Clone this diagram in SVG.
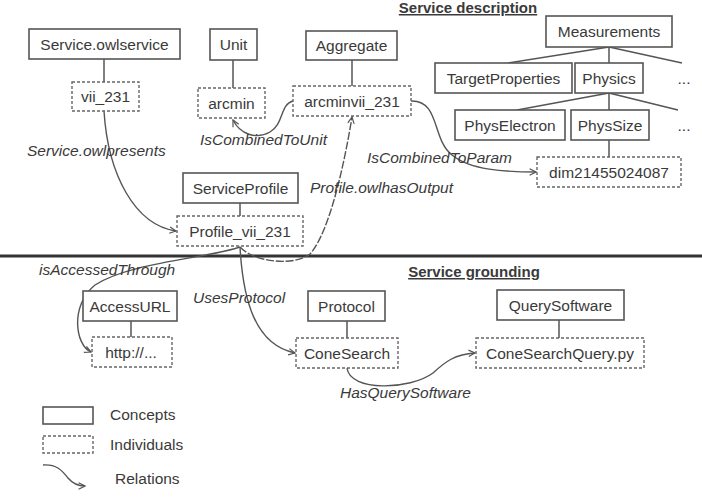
<svg xmlns="http://www.w3.org/2000/svg" width="702" height="498" viewBox="0 0 702 498">
<defs>
<marker id="arr" viewBox="0 0 10 10" refX="9" refY="5" markerWidth="8" markerHeight="8" orient="auto" markerUnits="userSpaceOnUse">
<path d="M1,1 L9,5 L1,9" fill="none" stroke="#555" stroke-width="1.5"/>
</marker>
<style>
.c{fill:#fff;stroke:#555;stroke-width:1.6}
.i{fill:#fff;stroke:#666;stroke-width:1.4;stroke-dasharray:3,2}
.t{font-family:"Liberation Sans",Arial,sans-serif;font-size:15.5px;fill:#3a3a3a;text-anchor:middle}
.l{font-family:"Liberation Sans",Arial,sans-serif;font-size:15.5px;font-style:italic;fill:#3a3a3a}
.h{font-family:"Liberation Sans",Arial,sans-serif;font-size:15px;font-weight:bold;fill:#3a3a3a;text-anchor:middle;text-decoration:underline}
.e{fill:none;stroke:#555;stroke-width:1.5}
.r{fill:none;stroke:#555;stroke-width:1.4;marker-end:url(#arr)}
</style>
</defs>
<rect width="702" height="498" fill="#fff"/>
<text class="h" x="468" y="13">Service description</text>
<text class="h" x="474" y="277">Service grounding</text>
<line x1="0" y1="256" x2="702" y2="256" stroke="#333" stroke-width="3"/>
<g id="edges">
<path class="e" d="M104,59 V82 M233,60 V88 M352,60 V86 M609,47 L508,63 M609,47 V63 M609,47 L682,63 M609,93 L517,110 M609,93 V110 M609,93 L678,110 M609,140 V157 M240,203 V216 M131,321 V337 M347,321 V338 M559,320 V338"/>
<path class="r" d="M104,111 C108,175 135,225 176,231"/>
<path class="r" d="M293,101 C280,104 284,124 270,132 C256,140 240,134 233,120"/>
<path class="r" d="M411,101 C440,100 432,140 452,155 C470,170 505,172 536,172"/>
<path class="r" stroke-dasharray="8,1.8" d="M240,247 C255,263 295,266 310,254 C330,232 345,160 352,117"/>
<path class="r" d="M240,247 C210,258 130,262 95,285 C70,305 75,345 91,352"/>
<path class="r" d="M240,247 C243,300 255,345 295,353"/>
<path class="r" d="M347,368 C350,392 410,390 433,373 C445,362 455,354 475,353"/>
<path class="r" d="M43,465 C58,464 63,472 68,478 C73,484 78,486 85,486"/>
</g>
<g id="n1"><rect class="c" x="29" y="29" width="151" height="30"/><text class="t" x="104.5" y="49.5">Service.owlservice</text></g>
<g id="n2"><rect class="i" x="72" y="82" width="67" height="29"/><text class="t" x="105.5" y="102">vii_231</text></g>
<g id="n3"><rect class="c" x="210" y="29" width="47" height="31"/><text class="t" x="233.5" y="50">Unit</text></g>
<g id="n4"><rect class="i" x="198" y="88" width="67" height="30"/><text class="t" x="231.5" y="108.5">arcmin</text></g>
<g id="n5"><rect class="c" x="306" y="31" width="91" height="29"/><text class="t" x="351.5" y="51">Aggregate</text></g>
<g id="n6"><rect class="i" x="293" y="86" width="118" height="30"/><text class="t" x="352" y="106.5">arcminvii_231</text></g>
<g id="n7"><rect class="c" x="546" y="16" width="126" height="31"/><text class="t" x="609" y="37">Measurements</text></g>
<g id="n8"><rect class="c" x="435" y="63" width="137" height="30"/><text class="t" x="503.5" y="83.5">TargetProperties</text></g>
<g id="n9"><rect class="c" x="575" y="63" width="68" height="30"/><text class="t" x="609" y="83.5">Physics</text></g>
<g id="n10"><text class="t" x="684" y="84">...</text></g>
<g id="n11"><rect class="c" x="455" y="110" width="110" height="30"/><text class="t" x="510" y="130.5">PhysElectron</text></g>
<g id="n12"><rect class="c" x="571" y="110" width="78" height="30"/><text class="t" x="610" y="130.5">PhysSize</text></g>
<g id="n13"><text class="t" x="684" y="131">...</text></g>
<g id="n14"><rect class="i" x="537" y="157" width="144" height="30"/><text class="t" x="609" y="177.5">dim21455024087</text></g>
<g id="n15"><rect class="c" x="183" y="173" width="115" height="30"/><text class="t" x="240.5" y="193.5">ServiceProfile</text></g>
<g id="n16"><rect class="i" x="177" y="216" width="126" height="30"/><text class="t" x="240" y="236.5">Profile_vii_231</text></g>
<g id="n17"><rect class="c" x="83" y="291" width="94" height="30"/><text class="t" x="130" y="311.5">AccessURL</text></g>
<g id="n18"><rect class="i" x="92" y="337" width="80" height="30"/><text class="t" x="131" y="357.5">http://...</text></g>
<g id="n19"><rect class="c" x="308" y="291" width="77" height="30"/><text class="t" x="346.5" y="311.5">Protocol</text></g>
<g id="n20"><rect class="i" x="296" y="338" width="102" height="30"/><text class="t" x="347" y="358.5">ConeSearch</text></g>
<g id="n21"><rect class="c" x="497" y="290" width="127" height="30"/><text class="t" x="560.5" y="310.5">QuerySoftware</text></g>
<g id="n22"><rect class="i" x="476" y="338" width="168" height="30"/><text class="t" x="560" y="358.5">ConeSearchQuery.py</text></g>
<g id="labels">
<text class="l" x="27" y="156">Service.owlpresents</text>
<text class="l" x="200" y="145">IsCombinedToUnit</text>
<text class="l" x="367" y="163">IsCombinedToParam</text>
<text class="l" x="310" y="193">Profile.owlhasOutput</text>
<text class="l" x="39" y="275">isAccessedThrough</text>
<text class="l" x="193" y="303">UsesProtocol</text>
<text class="l" x="340" y="398">HasQuerySoftware</text>
</g>
<g id="legend">
<rect class="c" x="43" y="407" width="50" height="17"/>
<rect class="i" x="43" y="436" width="50" height="17"/>
<text class="t" style="text-anchor:start" x="110" y="420">Concepts</text>
<text class="t" style="text-anchor:start" x="110" y="450">Individuals</text>
<text class="t" style="text-anchor:start" x="115" y="484">Relations</text>
</g>
</svg>
